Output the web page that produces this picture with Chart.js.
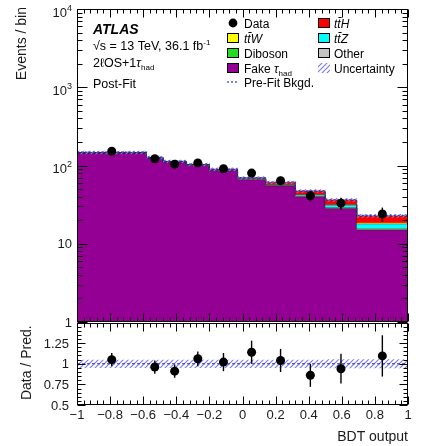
<!DOCTYPE html>
<html>
<head>
<meta charset="utf-8">
<script src="https://cdn.jsdelivr.net/npm/chart.js@4.4.1/dist/chart.umd.min.js"></script>
<style>
html,body{margin:0;padding:0;background:#fff;}
#wrap{position:relative;width:424px;height:446px;overflow:hidden;}
#main{position:absolute;left:0;top:0;}
#ratio{position:absolute;left:0;top:318px;}
</style>
</head>
<body>
<div id="wrap">
<canvas id="main" width="424" height="330"></canvas>
<canvas id="ratio" width="424" height="128"></canvas>
</div>
<script>
// bins of the BDT output and the post-fit stack (events / bin)
const binEdges   = [-1, -0.58, -0.48, -0.34, -0.2, -0.03, 0.14, 0.32, 0.5, 0.69, 1];
const binCentres = [-0.79, -0.53, -0.41, -0.27, -0.115, 0.055, 0.23, 0.41, 0.595, 0.845];
const fakeTau = [145, 125, 111, 101, 87, 66, 55, 40, 28.5, 15];
const diboson = [0.5, 0.4, 0.4, 0.4, 0.4, 0.4, 0.4, 0.4, 0.3, 0.3];
const other   = [0.3, 0.3, 0.3, 0.3, 0.3, 0.4, 0.4, 0.5, 0.5, 0.5];
const ttZ     = [0.3, 0.3, 0.3, 0.4, 0.5, 0.8, 1.0, 1.3, 2.0, 2.2];
const ttW     = [0.2, 0.2, 0.2, 0.2, 0.3, 0.4, 0.5, 0.5, 0.5, 0.5];
const ttH     = [0.5, 0.6, 0.7, 0.8, 1.0, 1.5, 3.5, 4.5, 4.5, 4.2];
const prefitBkgd = [148, 128, 114, 104, 90, 70, 61.5, 47.5, 36.5, 23];
const uncRel  = [0.05, 0.05, 0.05, 0.05, 0.05, 0.05, 0.05, 0.05, 0.055, 0.055];
const dataEvents = [152, 122, 104, 108, 91, 80, 64, 41, 33, 24];
const dataErr    = [12, 11, 10, 10, 9.5, 9, 8, 6.5, 5.8, 5];
const ratioVals  = [1.05, 0.96, 0.91, 1.06, 1.02, 1.14, 1.04, 0.86, 0.94, 1.095];
const ratioErr   = [0.08, 0.08, 0.08, 0.09, 0.11, 0.14, 0.14, 0.14, 0.18, 0.25];

// axis ticks
const xTickVals = [-1, -0.8, -0.6, -0.4, -0.2, 0, 0.2, 0.4, 0.6, 0.8, 1];
const xTickLabels = ['\u22121','\u22120.8','\u22120.6','\u22120.4','\u22120.2','0','0.2','0.4','0.6','0.8','1'];
const yTickVals = [1, 10, 100, 1000, 10000];
const yTickLabels = [['1',''], ['10',''], ['10','2'], ['10','3'], ['10','4']];
const ratioTickVals = [0.5, 0.75, 1, 1.25];
const ratioTickLabels = ['0.5', '0.75', '1', '1.25'];

const FONT = '"Liberation Sans", Arial, Helvetica, sans-serif';
const colFake='#930093', colDib='#22dd22', colOther='#c3c3c3', colTtZ='#00ffff', colTtW='#ffff00', colTtH='#ff0000';
const colUnc='#7d7de8', colPrefit='#3535c8';

function hatch(color){
    var c=document.createElement('canvas'); c.width=5; c.height=5;
    var g=c.getContext('2d');
    g.strokeStyle=color; g.lineWidth=1.2;
    g.beginPath();
    g.moveTo(0,5); g.lineTo(5,0);
    g.moveTo(-1,1); g.lineTo(1,-1);
    g.moveTo(4,6); g.lineTo(6,4);
    g.stroke();
    return g.createPattern(c,'repeat');
}
const hatchPat = hatch(colUnc);

// stacked sums, bottom -> top
const stackParts = [
    {name:'fake', vals:fakeTau, col:colFake},
    {name:'dib', vals:diboson, col:colDib},
    {name:'other', vals:other, col:colOther},
    {name:'ttZ', vals:ttZ, col:colTtZ},
    {name:'ttW', vals:ttW, col:colTtW},
    {name:'ttH', vals:ttH, col:colTtH}
];
var cum = fakeTau.map(()=>0);
stackParts.forEach(p=>{ cum = cum.map((c,i)=>c+p.vals[i]); p.cum = cum.slice(); });
const total = cum;
const uncLow = total.map((t,i)=>t*(1-uncRel[i]));
const uncHigh = total.map((t,i)=>t*(1+uncRel[i]));

// points at the left bin edges, plus the right end of the last bin
const steps = vals => binEdges.map((e,i)=>({x:e, y:vals[Math.min(i, vals.length-1)]}));

function fnt(p){ return (p.st||'')+' '+p.s+'px '+FONT; }
function rich(ctx, x, y, parts, align){
    ctx.textAlign='left';
    var w=0;
    parts.forEach(p=>{ ctx.font=fnt(p); w+=ctx.measureText(p.t).width; });
    var cx = align==='right' ? x-w : (align==='center' ? x-w/2 : x);
    parts.forEach(p=>{ ctx.font=fnt(p); ctx.fillText(p.t, cx, y+(p.dy||0)); cx+=ctx.measureText(p.t).width; });
}

function xTicks(ctx, sx, yEdge, dir, lenMaj, lenMin){
    for(var i=0;i<=50;i++){
        var v=-1+i*0.04, px=Math.round(sx.getPixelForValue(v))+0.5;
        var len=(i%5===0)?lenMaj:lenMin;
        ctx.beginPath(); ctx.moveTo(px,yEdge); ctx.lineTo(px,yEdge+dir*len); ctx.stroke();
    }
}

const mainDecor = {
    id:'mainDecor',
    beforeDatasetDraw(chart,args){
        if(args.index!==9) return;
        var ctx=chart.ctx, sx=chart.scales.x, sy=chart.scales.y;
        ctx.save(); ctx.strokeStyle='#000'; ctx.lineWidth=1.4;
        binCentres.forEach((x,i)=>{
            var px=sx.getPixelForValue(x);
            ctx.beginPath();
            ctx.moveTo(px, sy.getPixelForValue(dataEvents[i]-dataErr[i]));
            ctx.lineTo(px, sy.getPixelForValue(dataEvents[i]+dataErr[i]));
            ctx.stroke();
        });
        ctx.restore();
    },
    afterDraw(chart){
        var ctx=chart.ctx, a=chart.chartArea, sx=chart.scales.x, sy=chart.scales.y;
        ctx.save();
        ctx.strokeStyle='#000'; ctx.lineWidth=1;
        var L=Math.round(a.left)+0.5, R=Math.round(a.right)-0.5, T=Math.round(a.top)+0.5, B=Math.round(a.bottom)-0.5;
        ctx.strokeRect(L,T,R-L,B-T);
        // y ticks, both sides
        for(var d=0; d<4; d++){
            for(var m=1; m<=9; m++){
                var v=m*Math.pow(10,d), py=Math.round(sy.getPixelForValue(v))+0.5;
                var len=(m===1)?10:5;
                ctx.beginPath(); ctx.moveTo(L,py); ctx.lineTo(L+len,py); ctx.moveTo(R,py); ctx.lineTo(R-len,py); ctx.stroke();
            }
        }
        xTicks(ctx, sx, T, 1, 8, 4);
        xTicks(ctx, sx, B, -1, 8, 4);
        // y labels
        ctx.fillStyle='#1a1a1a'; ctx.textBaseline='alphabetic';
        yTickVals.forEach((v,i)=>{
            var py=sy.getPixelForValue(v), lab=yTickLabels[i];
            if(lab[1]) rich(ctx, 72, py+7.5, [{t:lab[0],s:13},{t:lab[1],s:9,dy:-6}], 'right');
            else rich(ctx, 72, py+4.7, [{t:lab[0],s:13}], 'right');
        });
        // y title
        ctx.save(); ctx.translate(22,7); ctx.rotate(-Math.PI/2);
        ctx.font='14px '+FONT; ctx.textAlign='right'; ctx.textBaseline='middle';
        ctx.fillText('Events / bin',0,0); ctx.restore();
        // ATLAS text block
        ctx.fillStyle='#000';
        rich(ctx, 93, 34, [{t:'ATLAS',s:14,st:'italic bold'}]);
        rich(ctx, 93, 50, [{t:'\u221As = 13 TeV, 36.1 fb',s:12.5},{t:'-1',s:8,dy:-5}]);
        rich(ctx, 93, 67, [{t:'2\u2113OS+1',s:12.5},{t:'\u03C4',s:12.5,st:'italic'},{t:'had',s:8,dy:3}]);
        rich(ctx, 93, 88, [{t:'Post-Fit',s:12.5}]);
        // legend
        var rows=[23,38,53,68,82];
        var c1x=227, c2x=318, bw=12, bh=10;
        function box(x,yc,fill){
            ctx.fillStyle=fill; ctx.fillRect(x,yc-bh/2,bw,bh);
            ctx.strokeStyle='#000'; ctx.lineWidth=1; ctx.strokeRect(x+0.5,yc-bh/2+0.5,bw-1,bh-1);
        }
        ctx.fillStyle='#000';
        ctx.beginPath(); ctx.arc(c1x+6,rows[0],4.4,0,2*Math.PI); ctx.fill();
        box(c1x,rows[1],colTtW); box(c1x,rows[2],colDib); box(c1x,rows[3],colFake);
        ctx.strokeStyle=colPrefit; ctx.lineWidth=1.2; ctx.setLineDash([2,2]);
        ctx.beginPath(); ctx.moveTo(c1x,rows[4]); ctx.lineTo(c1x+bw,rows[4]); ctx.stroke(); ctx.setLineDash([]);
        box(c2x,rows[0],colTtH); box(c2x,rows[1],colTtZ); box(c2x,rows[2],colOther);
        ctx.fillStyle=hatchPat; ctx.fillRect(c2x,rows[3]-bh/2,bw,bh);
        ctx.fillStyle='#000';
        var tx1=c1x+17, tx2=c2x+16;
        rich(ctx, tx1, rows[0]+4.5, [{t:'Data',s:12}]);
        rich(ctx, tx1, rows[1]+4.5, [{t:'tt\u0304W',s:12,st:'italic'}]);
        rich(ctx, tx1, rows[2]+4.5, [{t:'Diboson',s:12}]);
        rich(ctx, tx1, rows[3]+4.5, [{t:'Fake ',s:12},{t:'\u03C4',s:12,st:'italic'},{t:'had',s:8,dy:3}]);
        rich(ctx, tx1, rows[4]+4.5, [{t:'Pre-Fit Bkgd.',s:12}]);
        rich(ctx, tx2, rows[0]+4.5, [{t:'tt\u0304H',s:12,st:'italic'}]);
        rich(ctx, tx2, rows[1]+4.5, [{t:'tt\u0304Z',s:12,st:'italic'}]);
        rich(ctx, tx2, rows[2]+4.5, [{t:'Other',s:12}]);
        rich(ctx, tx2, rows[3]+4.5, [{t:'Uncertainty',s:12}]);
        ctx.restore();
    }
};

const stackSets = stackParts.map((p,k)=>({
    data: steps(p.cum), stepped:'before', borderColor:'rgba(40,40,40,0.8)', borderWidth:0.8,
    backgroundColor:p.col, pointRadius:0, fill: k===0 ? 'start' : '-1', order: 20-k
}));

new Chart(document.getElementById('main'), {
    type:'line',
    data:{datasets: stackSets.concat([
        {data:steps(uncLow), stepped:'before', borderWidth:0, pointRadius:0, fill:false, order:4},
        {data:steps(uncHigh), stepped:'before', borderWidth:0, pointRadius:0, fill:'-1', backgroundColor:hatchPat, order:3},
        {data:steps(prefitBkgd), stepped:'before', borderColor:colPrefit, borderDash:[2,2], borderWidth:1.2, pointRadius:0, fill:false, order:2},
        {data:binCentres.map((x,i)=>({x:x, y:dataEvents[i]})), showLine:false, pointRadius:4.5, pointBackgroundColor:'#000', pointBorderWidth:0, fill:false, order:1}
    ])},
    options:{
        responsive:false, animation:false, devicePixelRatio:1,
        layout:{padding:{left:77, right:16, top:9, bottom:8}},
        plugins:{legend:{display:false}, tooltip:{enabled:false}},
        scales:{
            x:{type:'linear', min:-1, max:1, display:false},
            y:{type:'logarithmic', min:1, max:10000, display:false}
        }
    },
    plugins:[mainDecor]
});

// ratio panel
const ratioDecor = {
    id:'ratioDecor',
    beforeDatasetDraw(chart,args){
        if(args.index!==3) return;
        var ctx=chart.ctx, sx=chart.scales.x, sy=chart.scales.y;
        ctx.save(); ctx.strokeStyle='#000'; ctx.lineWidth=1.4;
        binCentres.forEach((x,i)=>{
            var px=sx.getPixelForValue(x);
            ctx.beginPath();
            ctx.moveTo(px, sy.getPixelForValue(ratioVals[i]-ratioErr[i]));
            ctx.lineTo(px, sy.getPixelForValue(ratioVals[i]+ratioErr[i]));
            ctx.stroke();
        });
        ctx.restore();
    },
    afterDraw(chart){
        var ctx=chart.ctx, a=chart.chartArea, sx=chart.scales.x, sy=chart.scales.y;
        ctx.save();
        ctx.strokeStyle='#000'; ctx.lineWidth=1;
        var L=Math.round(a.left)+0.5, R=Math.round(a.right)-0.5, T=Math.round(a.top)+0.5, B=Math.round(a.bottom)-0.5;
        ctx.strokeRect(L,T,R-L,B-T);
        for(var i=0;i<=20;i++){
            var v=0.5+i*0.05, py=Math.round(sy.getPixelForValue(v))+0.5;
            var len=(i%5===0)?8:4;
            ctx.beginPath(); ctx.moveTo(L,py); ctx.lineTo(L+len,py); ctx.moveTo(R,py); ctx.lineTo(R-len,py); ctx.stroke();
        }
        xTicks(ctx, sx, T, 1, 8, 4);
        xTicks(ctx, sx, B, -1, 8, 4);
        ctx.fillStyle='#1a1a1a'; ctx.textBaseline='alphabetic';
        ratioTickVals.forEach((v,i)=>{
            rich(ctx, 69, sy.getPixelForValue(v)+4.7, [{t:ratioTickLabels[i],s:13}], 'right');
        });
        xTickVals.forEach((v,i)=>{
            rich(ctx, sx.getPixelForValue(v), a.bottom+13.5, [{t:xTickLabels[i],s:13}], 'center');
        });
        ctx.font='14px '+FONT; ctx.textAlign='right';
        ctx.fillText('BDT output', a.right, a.bottom+36);
        ctx.save(); ctx.translate(27,(a.top+a.bottom)/2-1); ctx.rotate(-Math.PI/2);
        ctx.textAlign='center'; ctx.textBaseline='middle';
        ctx.fillText('Data / Pred.',0,0); ctx.restore();
        ctx.restore();
    }
};

new Chart(document.getElementById('ratio'), {
    type:'line',
    data:{datasets:[
        {data:steps(uncRel.map(u=>1-u)), stepped:'before', borderWidth:0, pointRadius:0, fill:false, order:4},
        {data:steps(uncRel.map(u=>1+u)), stepped:'before', borderWidth:0, pointRadius:0, fill:'-1', backgroundColor:hatchPat, order:3},
        {data:[{x:-1,y:1},{x:1,y:1}], borderColor:colPrefit, borderDash:[3,2], borderWidth:1.2, pointRadius:0, fill:false, order:2},
        {data:binCentres.map((x,i)=>({x:x, y:ratioVals[i]})), showLine:false, pointRadius:4.5, pointBackgroundColor:'#000', pointBorderWidth:0, fill:false, order:1}
    ]},
    options:{
        responsive:false, animation:false, devicePixelRatio:1,
        layout:{padding:{left:77, right:16, top:4, bottom:41}},
        plugins:{legend:{display:false}, tooltip:{enabled:false}},
        scales:{
            x:{type:'linear', min:-1, max:1, display:false},
            y:{type:'linear', min:0.5, max:1.5, display:false}
        }
    },
    plugins:[ratioDecor]
});
</script>
</body>
</html>
